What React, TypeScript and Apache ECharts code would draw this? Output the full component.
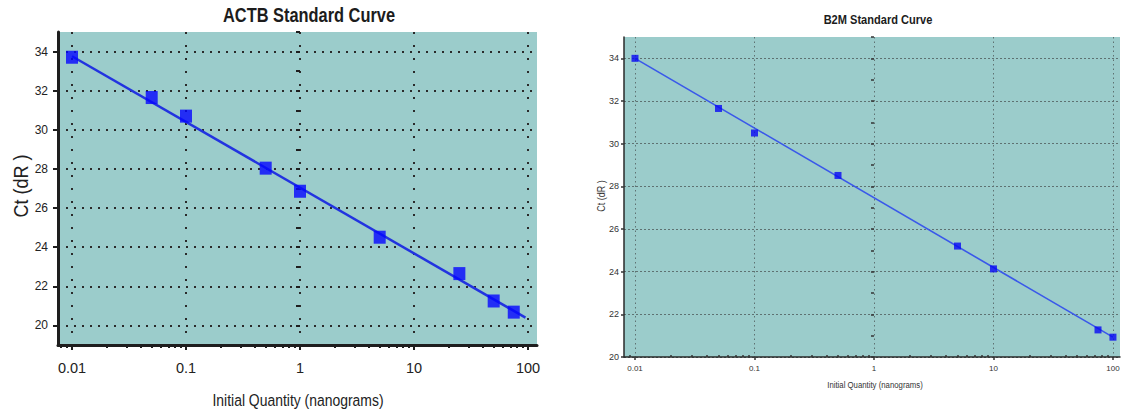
import React, { useEffect, useRef } from "react";
import * as echarts from "echarts";

// ACTB standard curve: measured Ct per dilution and the fitted line ends
const actbQuantity = [0.01, 0.05, 0.1, 0.5, 1, 5, 25, 50, 75];
const actbCt = [33.71, 31.65, 30.7, 28.04, 26.86, 24.51, 22.65, 21.25, 20.68];
const actbFitQuantity = [0.01, 95];
const actbFitCt = [33.76, 20.4];

// B2M standard curve
const b2mQuantity = [0.01, 0.05, 0.1, 0.5, 5, 10, 75, 100];
const b2mCt = [34.0, 31.65, 30.5, 28.51, 25.2, 24.13, 21.27, 20.93];
const b2mFitQuantity = [0.01, 100];
const b2mFitCt = [34.0, 20.93];

// Axis ticks
const decadeTicks = [0.01, 0.1, 1, 10, 100];
const decadeLabels = ["0.01", "0.1", "1", "10", "100"];
const ctLabelTicks = [20, 22, 24, 26, 28, 30, 32, 34];

const SANS = "'Liberation Sans', Arial, sans-serif";
const TEAL = "#9bcccb";
// horizontal squeeze that gives Liberation Sans a narrow look
const NARROW_SCALE = 0.82;

const lg = (q: number) => Math.log10(q);
const decadeLogs = decadeTicks.map(lg);

// 2..9 within each decade, for the small log ticks along the x axis
const minorLogs: number[] = [];
[0.001, 0.01, 0.1, 1, 10, 100].forEach((d) => {
  for (let k = 2; k <= 9; k++) minorLogs.push(lg(k * d));
});

const decadeFormatter = (v: number) => {
  let best = 0;
  decadeLogs.forEach((d, i) => {
    if (Math.abs(d - v) < Math.abs(decadeLogs[best] - v)) best = i;
  });
  return decadeLabels[best];
};

const pairs = (qs: number[], cts: number[]) => qs.map((q, i) => [lg(q), cts[i]]);

const narrowText = (
  text: string,
  x: number,
  y: number,
  font: string,
  opts: { rotation?: number; scaleX?: number; fill?: string } = {}
) => ({
  type: "text",
  x,
  y,
  rotation: opts.rotation ?? 0,
  scaleX: opts.scaleX ?? NARROW_SCALE,
  style: {
    text,
    font,
    fill: opts.fill ?? "#222",
    textAlign: "center",
    textVerticalAlign: "middle",
  },
});

export default function App() {
  const ref = useRef<HTMLDivElement>(null);

  useEffect(() => {
    if (!ref.current) return;
    const chart = echarts.init(ref.current, null, { renderer: "svg" });

    const leftRange = { min: -2.123, max: 2.079 };
    const rightRange = { min: -2.092, max: 2.059 };
    const leftMinor = minorLogs.filter((v) => v > leftRange.min && v < leftRange.max);
    const rightMinor = minorLogs.filter((v) => v > rightRange.min && v < rightRange.max);

    chart.setOption({
      animation: false,
      backgroundColor: "#ffffff",
      graphic: [
        narrowText("ACTB Standard Curve", 309, 15, `bold 20px ${SANS}`, { fill: "#1c1c1c" }),
        narrowText("B2M Standard Curve", 878, 20, `bold 13.5px ${SANS}`, { fill: "#1c1c1c" }),
        narrowText("Initial Quantity (nanograms)", 298, 400, `17px ${SANS}`),
        narrowText("Ct (dR )", 21, 186, `20px ${SANS}`, { rotation: Math.PI / 2, scaleX: 0.9 }),
        narrowText("Initial Quantity (nanograms)", 875, 385, `9.5px ${SANS}`, { fill: "#333" }),
        narrowText("Ct (dR )", 601, 196, `10px ${SANS}`, { rotation: Math.PI / 2, scaleX: 0.9, fill: "#333" }),
      ],
      grid: [
        { left: 58, top: 32, width: 479, height: 313, show: true, backgroundColor: TEAL, borderWidth: 0 },
        { left: 624, top: 37, width: 496, height: 320, show: true, backgroundColor: TEAL, borderWidth: 0 },
      ],
      xAxis: [
        {
          gridIndex: 0,
          type: "value",
          ...leftRange,
          axisLine: { show: true, onZero: false, lineStyle: { color: "#1e1e1e", width: 3 } },
          axisTick: { show: true, customValues: decadeLogs, length: 5, lineStyle: { color: "#1e1e1e", width: 2 } },
          axisLabel: {
            customValues: decadeLogs,
            formatter: decadeFormatter,
            fontFamily: SANS,
            fontSize: 14.5,
            color: "#222",
            margin: 15,
          },
          splitLine: { show: true, lineStyle: { color: "#2a2a2a", width: 2, type: [2, 11] } },
        },
        {
          gridIndex: 0,
          type: "value",
          position: "bottom",
          offset: 0,
          ...leftRange,
          axisLine: { show: false },
          axisTick: { show: true, customValues: leftMinor, length: 3, lineStyle: { color: "#1e1e1e", width: 2 } },
          axisLabel: { show: false },
          splitLine: { show: false },
        },
        {
          gridIndex: 1,
          type: "value",
          ...rightRange,
          axisLine: { show: true, onZero: false, lineStyle: { color: "#2a2a2a", width: 1.5 } },
          axisTick: { show: true, customValues: decadeLogs, length: 3, lineStyle: { color: "#333", width: 1.5 } },
          axisLabel: {
            customValues: decadeLogs,
            formatter: decadeFormatter,
            fontFamily: SANS,
            fontSize: 8,
            color: "#333",
            margin: 7,
          },
          splitLine: { show: true, lineStyle: { color: "#5e7272", width: 1, type: [1.5, 3] } },
        },
        {
          gridIndex: 1,
          type: "value",
          position: "bottom",
          offset: 0,
          ...rightRange,
          axisLine: { show: false },
          axisTick: { show: true, inside: true, customValues: rightMinor, length: 2, lineStyle: { color: "#333", width: 1.5 } },
          axisLabel: { show: false },
          splitLine: { show: false },
        },
      ],
      yAxis: [
        {
          gridIndex: 0,
          type: "value",
          min: 19,
          max: 35,
          axisLine: { show: true, onZero: false, lineStyle: { color: "#1e1e1e", width: 3 } },
          axisTick: { show: true, customValues: ctLabelTicks, length: 5, lineStyle: { color: "#1e1e1e", width: 2 } },
          axisLabel: {
            customValues: ctLabelTicks,
            fontFamily: SANS,
            fontSize: 12,
            color: "#222",
            margin: 10,
          },
          splitLine: { show: true, lineStyle: { color: "#2a2a2a", width: 2, type: [2, 6] } },
        },
        {
          gridIndex: 0,
          type: "value",
          position: "left",
          offset: 0,
          min: 19,
          max: 35,
          interval: 1,
          axisLine: { show: false },
          axisTick: { show: true, length: 4, lineStyle: { color: "#1e1e1e", width: 2 } },
          axisLabel: { show: false },
          splitLine: { show: false },
        },
        {
          gridIndex: 1,
          type: "value",
          min: 20,
          max: 35,
          axisLine: { show: true, onZero: false, lineStyle: { color: "#2a2a2a", width: 1.5 } },
          axisTick: { show: true, customValues: ctLabelTicks, length: 3, lineStyle: { color: "#333", width: 1.5 } },
          axisLabel: {
            customValues: ctLabelTicks,
            fontFamily: SANS,
            fontSize: 9,
            color: "#333",
            margin: 5,
          },
          splitLine: { show: true, lineStyle: { color: "#5e7272", width: 1, type: [2, 2] } },
        },
        {
          gridIndex: 1,
          type: "value",
          position: "left",
          offset: 0,
          min: 20,
          max: 35,
          interval: 1,
          axisLine: { show: false },
          axisTick: { show: true, length: 3, lineStyle: { color: "#333", width: 1.5 } },
          axisLabel: { show: false },
          splitLine: { show: false },
        },
      ],
      series: [
        {
          type: "line",
          xAxisIndex: 0,
          yAxisIndex: 0,
          data: pairs(actbFitQuantity, actbFitCt),
          symbol: "none",
          lineStyle: { color: "#2233e0", width: 2.5 },
          z: 3,
        },
        {
          type: "scatter",
          xAxisIndex: 0,
          yAxisIndex: 0,
          data: pairs(actbQuantity, actbCt),
          symbol: "rect",
          symbolSize: [12, 13],
          itemStyle: { color: "#0505ff" },
          z: 4,
        },
        {
          type: "line",
          xAxisIndex: 2,
          yAxisIndex: 2,
          data: pairs(b2mFitQuantity, b2mFitCt),
          symbol: "none",
          lineStyle: { color: "#3a58ea", width: 1.6 },
          z: 3,
        },
        {
          type: "scatter",
          xAxisIndex: 2,
          yAxisIndex: 2,
          data: pairs(b2mQuantity, b2mCt),
          symbol: "rect",
          symbolSize: [7, 7],
          itemStyle: { color: "#0808f4" },
          z: 4,
        },
      ],
    });

    return () => chart.dispose();
  }, []);

  return (
    <div
      ref={ref}
      style={{ position: "absolute", left: 0, top: 0, width: 1123, height: 419 }}
    />
  );
}
